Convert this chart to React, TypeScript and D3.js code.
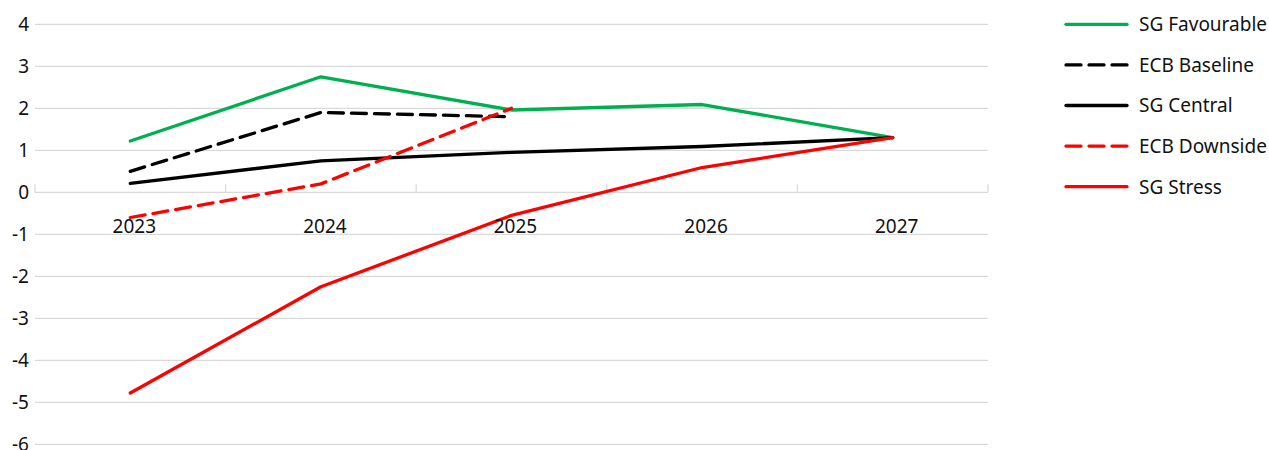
import React from "react";
import * as d3 from "d3";

const years = ["2023", "2024", "2025", "2026", "2027"];
const sgFavourable = [1.22, 2.75, 1.96, 2.09, 1.3];
const ecbBaseline = [0.5, 1.9, 1.8, null, null];
const sgCentral = [0.21, 0.75, 0.95, 1.09, 1.3];
const ecbDownside = [-0.6, 0.2, 2.0, null, null];
const sgStress = [-4.78, -2.25, -0.55, 0.59, 1.3];
const yTicks = [4, 3, 2, 1, 0, -1, -2, -3, -4, -5, -6];

const seriesList = [
  { name: "SG Favourable", values: sgFavourable, color: "#00b050", dash: "" },
  { name: "ECB Baseline", values: ecbBaseline, color: "#000000", dash: "15 8" },
  { name: "SG Central", values: sgCentral, color: "#000000", dash: "" },
  { name: "ECB Downside", values: ecbDownside, color: "#ff0000", dash: "15 8" },
  { name: "SG Stress", values: sgStress, color: "#ff0000", dash: "" },
];

const W = 1269;
const H = 450;
const left = 35;
const right = 988;
const FONT = "'Noto Sans', 'Open Sans', sans-serif";

export default function App() {
  const x = d3.scaleBand<string>().domain(years).range([left, right]).padding(0);
  const y = d3.scaleLinear().domain([-6, 4]).range([444.3, 24.3]);
  const cx = (d: string) => (x(d) as number) + x.bandwidth() / 2;
  const line = d3
    .line<number | null>()
    .defined((d) => d !== null)
    .x((_, i) => cx(years[i]))
    .y((d) => y(d as number));
  const boundaries = years.map((d) => x(d) as number).concat([right]);

  return (
    <svg
      width={W}
      height={H}
      style={{ position: "absolute", left: 0, top: 0, background: "#fff" }}
      fontFamily={FONT}
    >
      {yTicks.map((t) => (
        <g key={t}>
          <line x1={left} x2={right} y1={y(t)} y2={y(t)} stroke="#d9d9d9" strokeWidth={1.3} />
          <text x={29} y={y(t)} dy="0.36em" textAnchor="end" fontSize={19} fill="#111">
            {t}
          </text>
        </g>
      ))}
      {boundaries.map((b, i) => (
        <line key={i} x1={b} x2={b} y1={y(0) - 8} y2={y(0)} stroke="#d9d9d9" strokeWidth={1.3} />
      ))}
      {seriesList.map((s) => (
        <path
          key={s.name}
          d={line(s.values) || ""}
          fill="none"
          stroke={s.color}
          strokeWidth={3.3}
          strokeDasharray={s.dash || undefined}
          strokeLinejoin="round"
          strokeLinecap="round"
        />
      ))}
      {years.map((yr) => (
        <text key={yr} x={cx(yr) + 4} y={233} textAnchor="middle" fontSize={19} fill="#111">
          {yr}
        </text>
      ))}
      {seriesList.map((s, i) => {
        const ly = 24.3 + i * 40.6;
        return (
          <g key={s.name}>
            <line
              x1={1066}
              x2={1127}
              y1={ly}
              y2={ly}
              stroke={s.color}
              strokeWidth={3.3}
              strokeDasharray={s.dash || undefined}
              strokeLinecap="round"
            />
            <text x={1139} y={ly} dy="0.36em" fontSize={19} fill="#111">
              {s.name}
            </text>
          </g>
        );
      })}
    </svg>
  );
}
